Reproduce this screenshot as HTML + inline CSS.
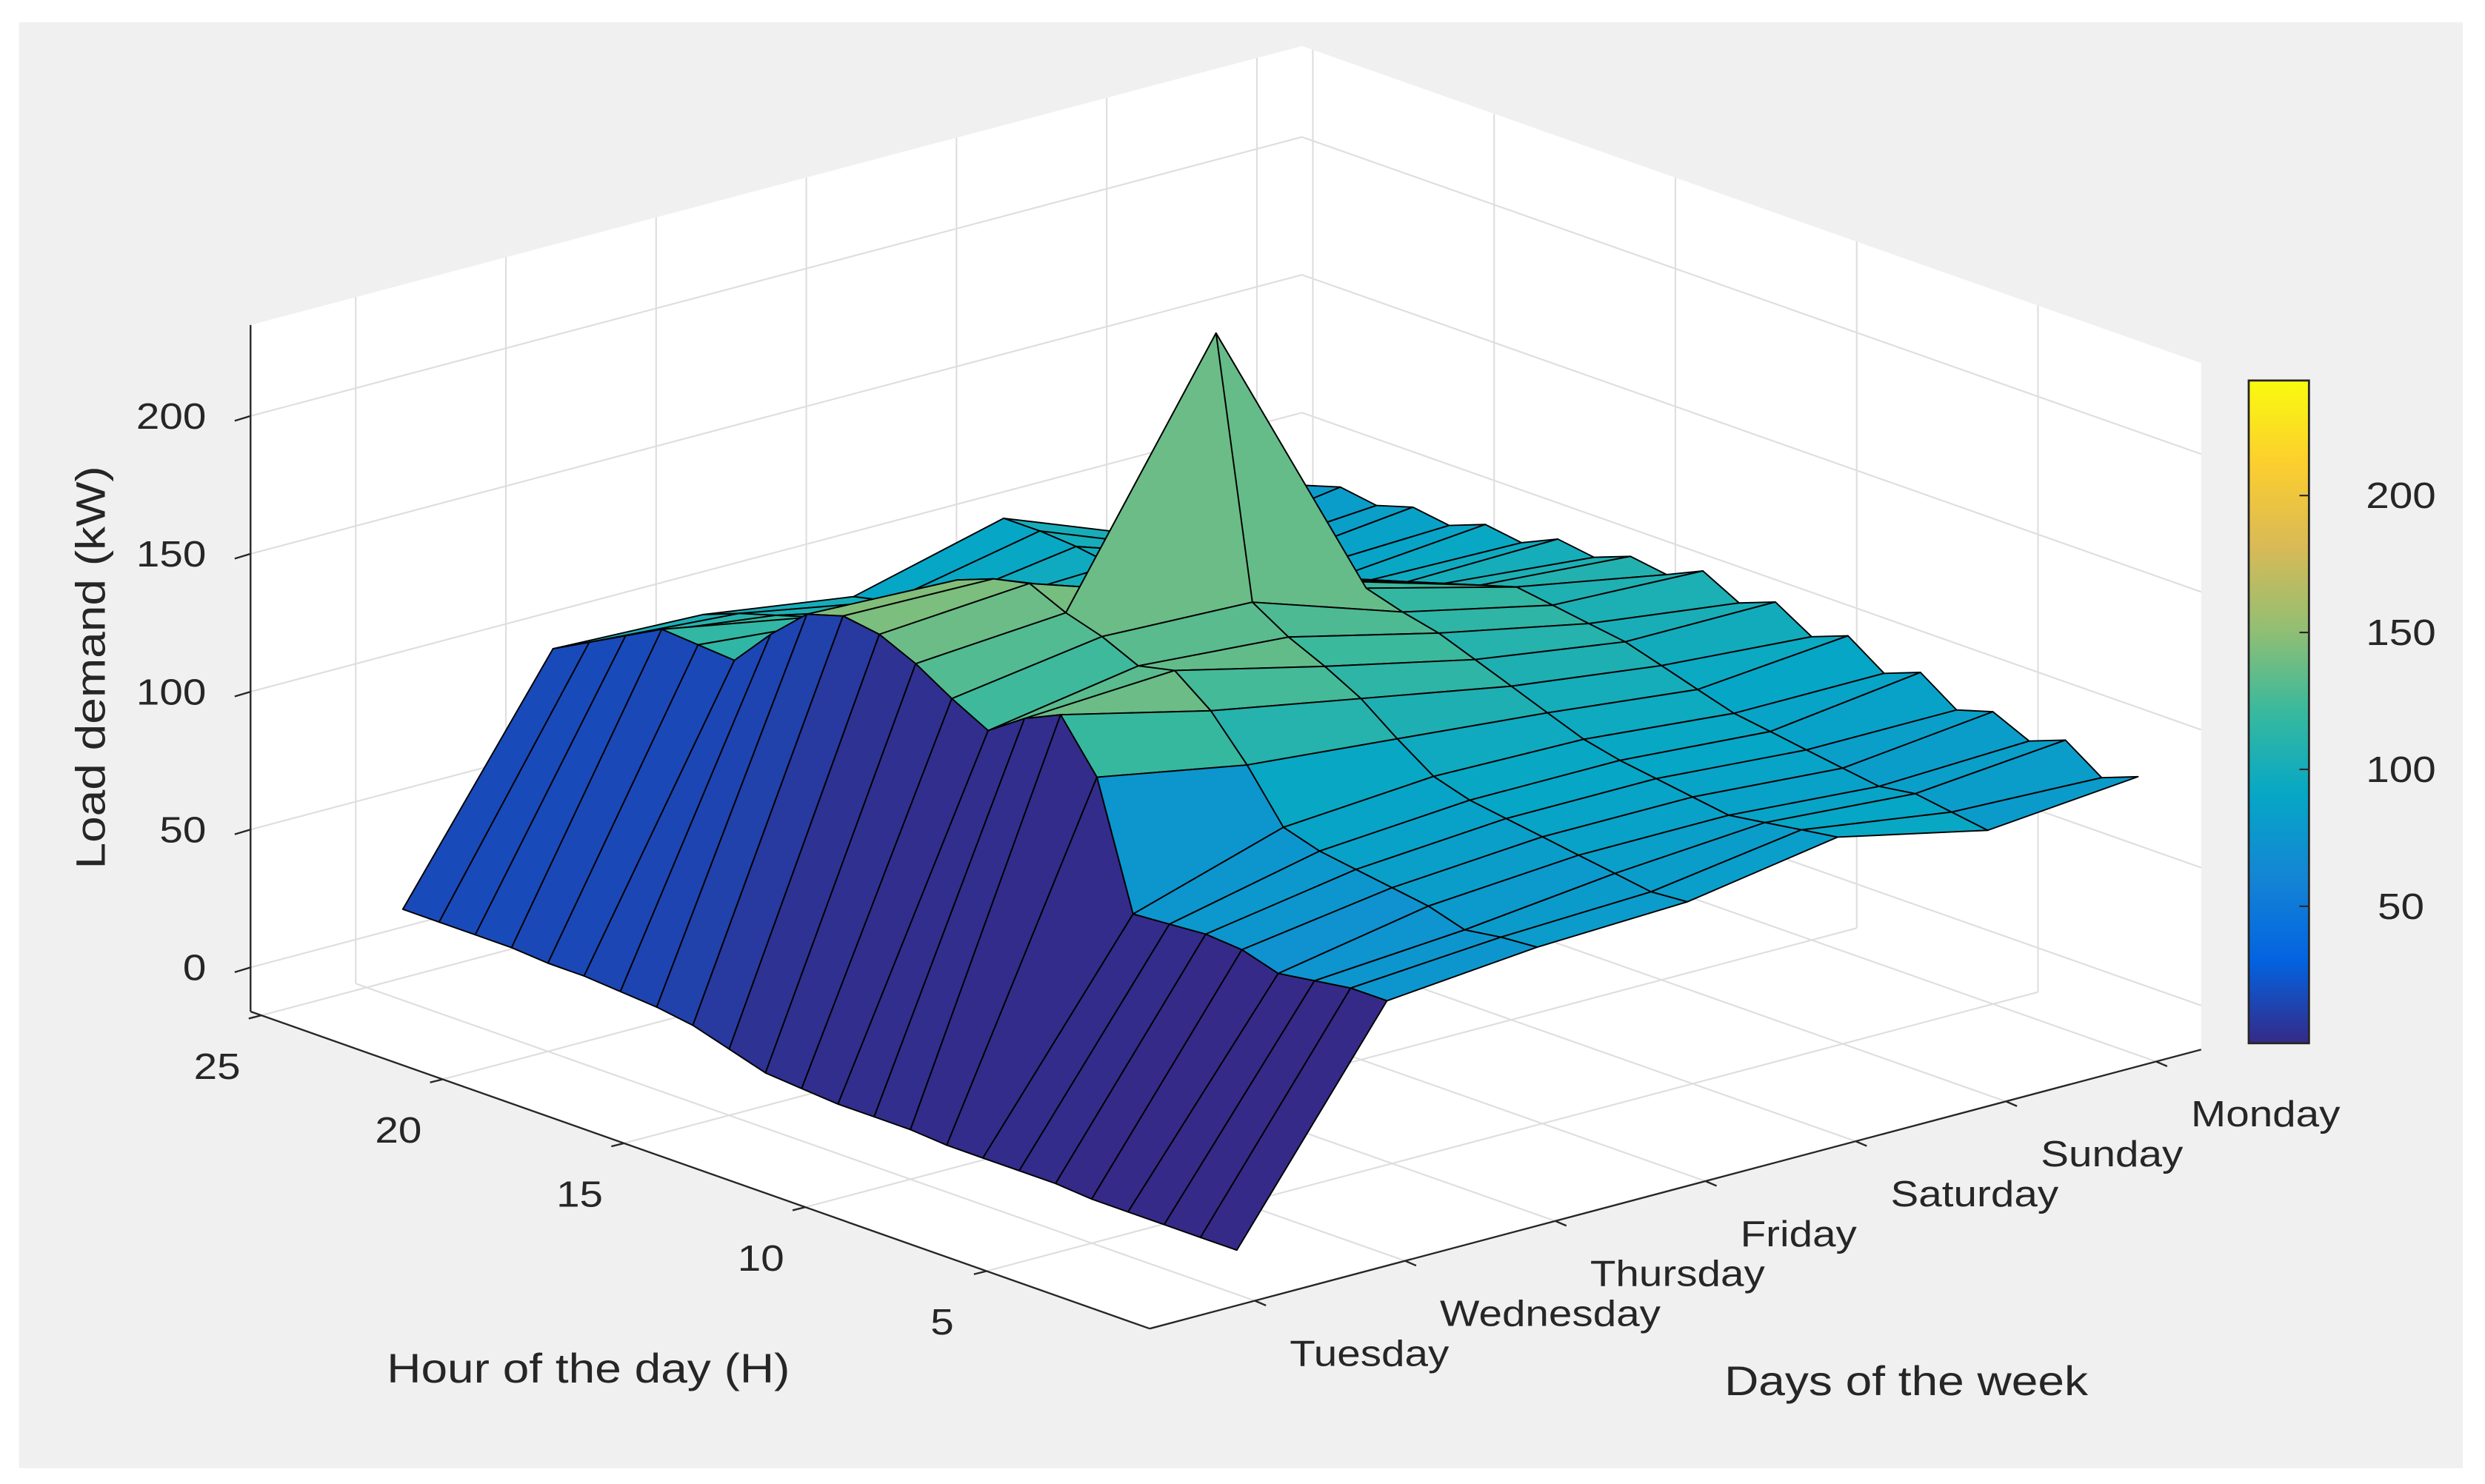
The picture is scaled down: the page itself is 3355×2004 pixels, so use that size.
<!DOCTYPE html>
<html><head><meta charset="utf-8"><title>Load demand surface</title>
<style>
html,body{margin:0;padding:0;background:#fff;}
svg{display:block;}
text{font-family:"Liberation Sans",Arial,sans-serif;fill:#262626;}
</style></head>
<body>
<svg id="chart" width="3355" height="2004" viewBox="0 0 1567 936" preserveAspectRatio="none" xmlns="http://www.w3.org/2000/svg">
<rect x="12" y="14" width="1541" height="912" fill="#f0f0f0"/>
<g id="panes"></g>
<g id="grid"></g>
<g id="axes"></g>
<g id="surf"></g>
<g id="cbar"></g>
<text x="0" y="0" font-size="26" text-anchor="middle" transform="translate(66,421) rotate(-90) scale(1.15,1)">Load demand (kW)</text>
<text x="0" y="0" font-size="26" text-anchor="middle" transform="translate(371,872) scale(1.15,1)">Hour of the day (H)</text>
<text x="0" y="0" font-size="26" text-anchor="middle" transform="translate(1202,880) scale(1.15,1)">Days of the week</text>
</svg>
<script>
const dayNames = ["Tuesday","Wednesday","Thursday","Friday","Saturday","Sunday","Monday"];
const hours = [1,2,3,4,5,6,7,8,9,10,11,12,13,14,15,16,17,18,19,20,21,22,23,24];
const hourTicks = [5,10,15,20,25];
const zTicks = [0,50,100,150,200];
const cbarTicks = [50,100,150,200];
const tue = [0,0,0,0,0,1,1,1,1,2,2,2,3,4,8,12,14,15,16,16,17,17,17,17];
const wed = [76,76,74,72,76,77,76,75,120,138,132,123,130,138,144,146,142,130,116,117,118,111,104,97];
const thu = [81,80,78,82,84,86,88,92,110,125,135,132,138,142,148,145,140,128,115,112,108,104,100,95];
const fri = [83,82,84,86,88,90,92,96,105,115,122,128,136,229,130,124,118,110,104,100,96,92,90,87];
const sat = [92,90,88,86,88,90,92,95,100,105,110,115,118,122,120,116,112,108,104,100,98,100,101,101];
const sun = [80,82,84,82,84,86,88,90,94,98,102,104,106,108,104,100,96,92,88,86,84,82,80,80];
const mon = [85,80,89,84,90,86,95,90,99,94,102,97,104,98,100,95,97,91,93,88,90,86,88,84];
const series = [tue,wed,thu,fri,sat,sun,mon];

const NS="http://www.w3.org/2000/svg";
const A={x:725,y:838}, L={x:158,y:638}, R={x:1388,y:662}, ZH=433;
const H0=0.5,H1=25.3,D0=0.3,D1=7.3,Z0=-16,Z1=233, C0=0,C1=242;
function P(h,d,z){
  const hu=(h-H0)/(H1-H0), du=(d-D0)/(D1-D0), zu=(z-Z0)/(Z1-Z0);
  return [A.x+hu*(L.x-A.x)+du*(R.x-A.x), A.y+hu*(L.y-A.y)+du*(R.y-A.y)-zu*ZH];
}
function mk(tag,attrs,parent){const e=document.createElementNS(NS,tag);for(const k in attrs)e.setAttribute(k,attrs[k]);parent.appendChild(e);return e;}
function pts(a){return a.map(p=>p[0].toFixed(1)+","+p[1].toFixed(1)).join(" ");}
const stops=[[53,42,135],[3,99,225],[20,133,212],[6,167,198],[56,185,158],[146,191,115],[217,186,86],[252,206,46],[249,251,14]];
function parula(v){
  let t=Math.max(0,Math.min(1,(v-C0)/(C1-C0)))*(stops.length-1);
  const i=Math.min(stops.length-2,Math.floor(t)), f=t-i;
  const c=stops[i].map((s,k)=>Math.round(s+(stops[i+1][k]-s)*f));
  return "rgb("+c.join(",")+")";
}
function label(parent,x,y,txt,anchor,name){
  const t=mk('text',{x:0,y:0,"font-size":23,"text-anchor":anchor,transform:"translate("+x.toFixed(1)+","+y.toFixed(1)+") scale(1.15,1)"},parent);
  t.textContent=txt;
  
  
}
// panes
const panes=document.getElementById('panes');
const el0=mk('polygon',{points:pts([P(H1,D0,Z1),P(H1,D1,Z1),P(H0,D1,Z1),P(H0,D1,Z0),P(H0,D0,Z0),P(H1,D0,Z0)]),fill:"#ffffff"},panes);


// grid
const grid=document.getElementById('grid');
function gl(p,q,name){const e=mk('line',{x1:p[0],y1:p[1],x2:q[0],y2:q[1],stroke:"#dedede","stroke-width":1},grid);

}
zTicks.forEach(z=>{gl(P(H1,D0,z),P(H1,D1,z),'grid-z-left');gl(P(H1,D1,z),P(H0,D1,z),'grid-z-right');});
dayNames.forEach((n,i)=>{const d=i+1;gl(P(H1,d,Z0),P(H1,d,Z1),'grid-day-wall');gl(P(H0,d,Z0),P(H1,d,Z0),'grid-day-floor');});
hourTicks.forEach(h=>{gl(P(h,D1,Z0),P(h,D1,Z1),'grid-hour-wall');gl(P(h,D0,Z0),P(h,D1,Z0),'grid-hour-floor');});
// axes
const axes=document.getElementById('axes');
function al(p,q,name){const e=mk('line',{x1:p[0],y1:p[1],x2:q[0],y2:q[1],stroke:"#262626","stroke-width":1.1},axes);

}
al(P(H1,D0,Z0),P(H1,D0,Z1),'z-axis-line');
al(P(H1,D0,Z0),P(H0,D0,Z0),'x-axis-line');
al(P(H0,D0,Z0),P(H0,D1,Z0),'y-axis-line');
zTicks.forEach(z=>{const p=P(H1,D0,z);al([p[0]-10,p[1]+3],p,'z-tick');
label(axes,p[0]-28,p[1]+8,String(z),"end",'z-tick-label');});
hourTicks.forEach(h=>{const p=P(h,D0,Z0);al(p,[p[0]-8,p[1]+2],'x-tick');
label(axes,p[0]-28,p[1]+40,String(h),"middle",'x-tick-label');});
dayNames.forEach((n,i)=>{const p=P(H0,i+1,Z0);al(p,[p[0]+7,p[1]+3],'y-tick');
label(axes,p[0]+22,p[1]+41,n,"start",'y-tick-label');});
// surface
const surf=document.getElementById('surf');
const faces=[];
for(let j=0;j<series.length-1;j++){for(let i=0;i<hours.length-1;i++){
  const h0=hours[i],h1=hours[i+1],d0=j+1,d1=j+2;
  const poly=[P(h0,d0,series[j][i]),P(h1,d0,series[j][i+1]),P(h1,d1,series[j+1][i+1]),P(h0,d1,series[j+1][i])];
  const depth=((h0+h1)/2-H0)/(H1-H0)+((d0+d1)/2-D0)/(D1-D0);
  faces.push({poly,depth,c:series[j][i]});
}}
faces.sort((a,b)=>b.depth-a.depth);
faces.forEach(f=>{const e=mk('polygon',{points:pts(f.poly),fill:parula(f.c),stroke:"#000","stroke-width":0.9,"stroke-linejoin":"round"},surf);

});
// colorbar
const cb=document.getElementById('cbar');
const CX=1418,CW=38,CT=240,CB=658;
const defs=mk('defs',{},cb);
const lg=mk('linearGradient',{id:"pg",x1:0,y1:1,x2:0,y2:0},defs);
stops.forEach((s,i)=>mk('stop',{offset:(i/(stops.length-1)),"stop-color":"rgb("+s.join(",")+")"},lg));
const cr=mk('rect',{x:CX,y:CT,width:CW,height:CB-CT,fill:"url(#pg)",stroke:"#262626","stroke-width":1.3},cb);


cbarTicks.forEach(v=>{const y=CB-(v-C0)/(C1-C0)*(CB-CT);
const e=mk('line',{x1:CX+CW-6,y1:y,x2:CX+CW,y2:y,stroke:"#262626","stroke-width":1},cb);


label(cb,CX+CW+58,y+8,String(v),"middle",'colorbar-tick-label');});
</script>
</body></html>
